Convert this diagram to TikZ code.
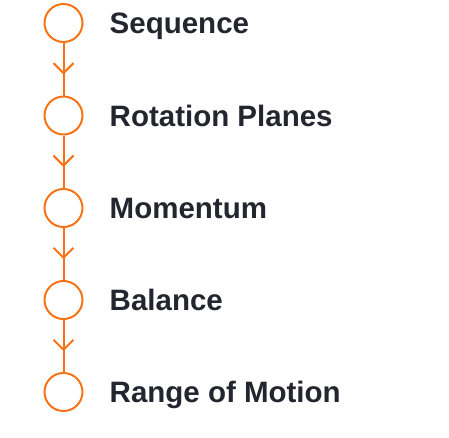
\documentclass[tikz,border=0pt]{standalone}
\usepackage{fontspec}
\setmainfont{Liberation Sans}
\usetikzlibrary{arrows.meta,decorations.markings}
\definecolor{accent}{HTML}{F97316}
\definecolor{ink}{HTML}{23262F}
\begin{document}
\begin{tikzpicture}[x=1pt,y=-1pt,
  stepcircle/.style={circle,draw=accent,line width=2pt,minimum size=38pt,inner sep=0pt},
  steplabel/.style={anchor=base west,text=ink,font=\fontsize{29.5}{34}\selectfont\bfseries,inner sep=0pt},
  link/.style={draw=accent,line width=2pt,postaction={decorate},
    decoration={markings,mark=at position 0.6 with {\arrow{Straight Barb[width=20pt,length=10pt,line width=2pt,accent]}}}}]
\useasboundingbox (0,0) rectangle (449,437);
\node[stepcircle] (c1) at (63.5,23) {};
\node[stepcircle] (c2) at (63.5,115.5) {};
\node[stepcircle] (c3) at (63.5,208) {};
\node[stepcircle] (c4) at (63.5,300) {};
\node[stepcircle] (c5) at (63.5,392) {};
\node[steplabel] (t1) at (109.5,33.8) {Sequence};
\node[steplabel] (t2) at (109.5,126.3) {Rotation Planes};
\node[steplabel] (t3) at (109.5,218.8) {Momentum};
\node[steplabel] (t4) at (109.5,310.8) {Balance};
\node[steplabel] (t5) at (109.5,402.8) {Range of Motion};
\draw[link] (c1) -- (c2);
\draw[link] (c2) -- (c3);
\draw[link] (c3) -- (c4);
\draw[link] (c4) -- (c5);
\end{tikzpicture}
\end{document}
